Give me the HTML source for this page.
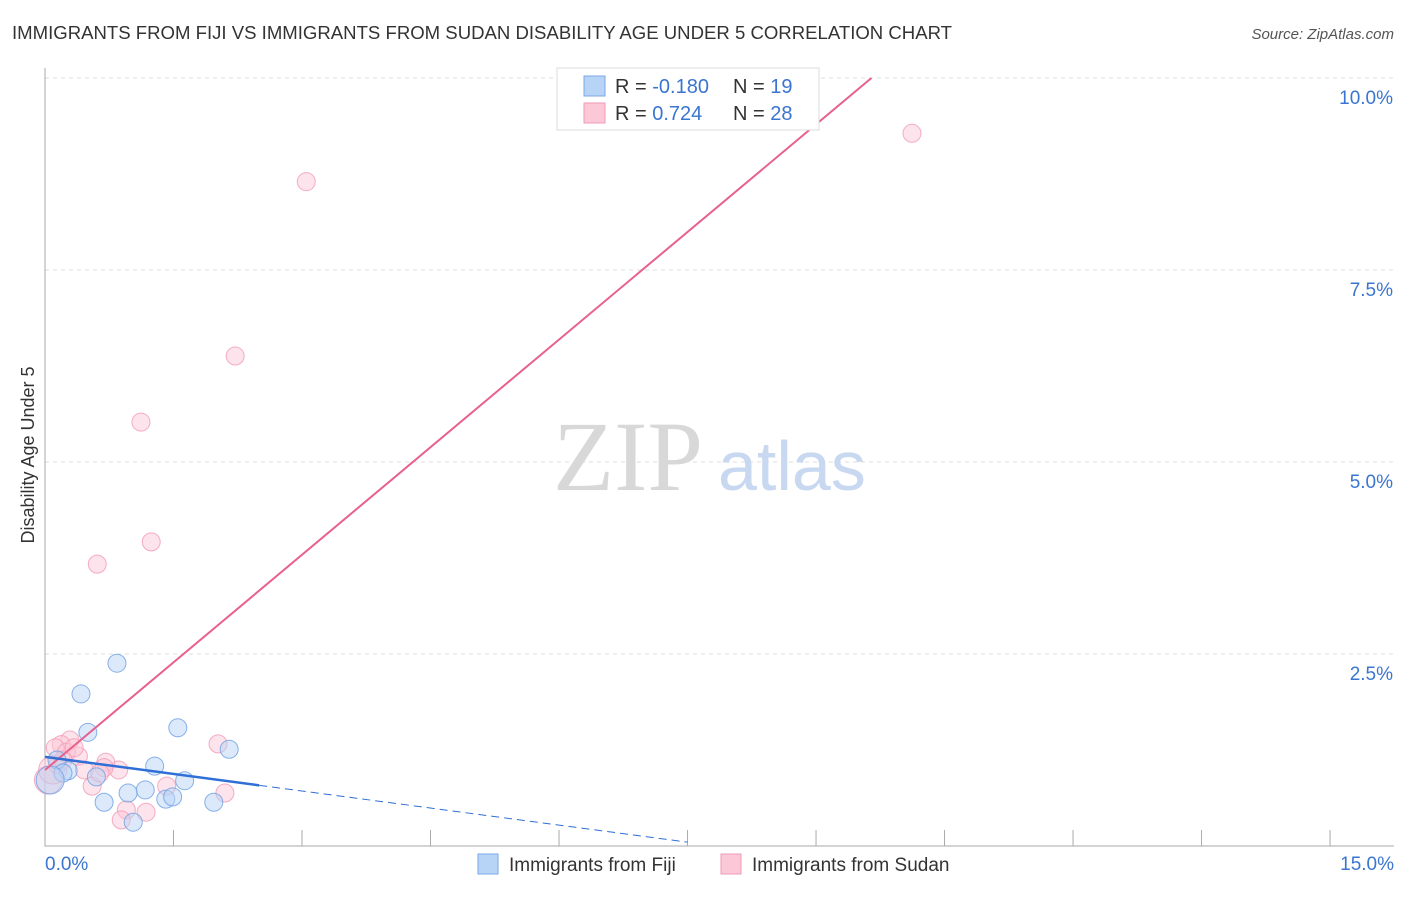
<!DOCTYPE html>
<html><head><meta charset="utf-8"><style>
body{margin:0;background:#fff;font-family:"Liberation Sans",sans-serif;}
</style></head><body>
<svg width="1406" height="892" style="font-family:'Liberation Sans',sans-serif">
<text x="12" y="39" font-size="18" fill="#333" textLength="940" lengthAdjust="spacingAndGlyphs">IMMIGRANTS FROM FIJI VS IMMIGRANTS FROM SUDAN DISABILITY AGE UNDER 5 CORRELATION CHART</text>
<text x="1394" y="39" font-size="15" fill="#555" font-style="italic" text-anchor="end">Source: ZipAtlas.com</text>
<text x="34" y="455" font-size="18" fill="#333" text-anchor="middle" transform="rotate(-90 34 455)">Disability Age Under 5</text>
<g id="grid"></g>
<text x="553" y="490" font-size="100" fill="#d8d8d8" style="font-family:'Liberation Serif',serif">ZIP</text>
<text x="718" y="490" font-size="70" fill="#c8d8f0">atlas</text>
<g id="marks"></g>
<g>
<rect x="557" y="68" width="262" height="62" fill="#fff" stroke="#ddd"/>
<rect x="584" y="76" width="21" height="20" fill="#b7d3f5" stroke="#7aa7e6"/>
<rect x="584" y="103" width="21" height="20" fill="#fbc8d7" stroke="#f19ab5"/>
<text x="615" y="93" font-size="20" fill="#333">R = <tspan fill="#3a75d0">-0.180</tspan></text>
<text x="733" y="93" font-size="20" fill="#333">N = <tspan fill="#3a75d0"> 19</tspan></text>
<text x="615" y="120" font-size="20" fill="#333">R = <tspan fill="#3a75d0"> 0.724</tspan></text>
<text x="733" y="120" font-size="20" fill="#333">N = <tspan fill="#3a75d0">28</tspan></text>
</g>
<g>
<rect x="478" y="854" width="20" height="20" fill="#b7d3f5" stroke="#7aa7e6"/>
<text x="509" y="871" font-size="19" fill="#333">Immigrants from Fiji</text>
<rect x="721" y="854" width="20" height="20" fill="#fbc8d7" stroke="#f19ab5"/>
<text x="752" y="871" font-size="19" fill="#333">Immigrants from Sudan</text>
</g>
</svg>
<script>
const yTicks=[2.5,5,7.5,10];
const yTickLabels=["2.5%","5.0%","7.5%","10.0%"];
const xTickLabels=["0.0%","15.0%"];
const fijiX=[0.84,0.42,0.5,1.55,2.15,1.28,1.63,1.17,0.97,0.69,1.41,1.49,1.97,1.03,0.6,0.27,0.14,0.21,0.06];
const fijiY=[2.38,1.98,1.48,1.54,1.26,1.04,0.85,0.73,0.69,0.57,0.61,0.64,0.57,0.31,0.9,0.98,1.12,0.95,0.86];
const sudanX=[10.12,3.05,2.22,1.12,1.24,0.61,2.02,2.1,1.42,0.86,0.71,0.69,0.55,0.39,0.29,0.19,0.12,0.25,0.46,0.95,0.89,1.18,0.04,0.09,0.34,0.64,0.15,0.21];
const sudanY=[9.28,8.65,6.38,5.52,3.96,3.67,1.33,0.69,0.78,0.99,1.09,1.02,0.78,1.17,1.38,1.32,1.28,1.22,0.99,0.47,0.34,0.44,0.86,0.99,1.28,0.95,1.06,1.12];
const fijiFit=[1.16,-0.148], sudanFit=[0.99,0.934];
const X=v=>45+v*85.67, Y=v=>846-v*76.8;
const NS="http://www.w3.org/2000/svg";
function mk(t,a,p){const e=document.createElementNS(NS,t);for(const k in a)e.setAttribute(k,a[k]);p.appendChild(e);return e;}
const g=document.getElementById('grid'), m=document.getElementById('marks');
yTicks.forEach((t,i)=>{
 const l=mk('line',{x1:45,x2:1394,y1:Y(t),y2:Y(t),stroke:'#ddd','stroke-dasharray':'4,4'},g);
 
 
 const tx=mk('text',{x:1393,y:Y(t)+26,'font-size':19,fill:'#3a75d0','text-anchor':'end'},g);tx.textContent=yTickLabels[i];
 
 
});
const ax=mk('path',{d:'M45 68V846H1394',stroke:'#aaa',fill:'none'},g);


for(let i=1;i<=10;i++){const t=mk('line',{x1:X(i*1.5),x2:X(i*1.5),y1:830,y2:846,stroke:'#aaa'},g);
 
 }
[[0,'start',45],[15,'end',1394]].forEach((d,i)=>{const t=mk('text',{x:d[2],y:870,'font-size':19,fill:'#3a75d0','text-anchor':d[1]},g);t.textContent=xTickLabels[i];
 
 });
function pts(xs,ys,fill,stroke,name){xs.forEach((x,i)=>{const big=x<0.1;const c=mk('circle',{cx:X(x),cy:Y(ys[i]),r:big?14:9,fill:fill,'fill-opacity':0.5,stroke:stroke,'stroke-opacity':0.8},m);
 
 });}
pts(sudanX,sudanY,'#fbc8d7','#f19ab5','sudan-point');
pts(fijiX,fijiY,'#b7d3f5','#6d9fe3','fiji-point');
const f=v=>fijiFit[0]+fijiFit[1]*v, s=v=>sudanFit[0]+sudanFit[1]*v;
const sx2=(10.0-sudanFit[0])/sudanFit[1];
const sl=mk('line',{x1:X(0),y1:Y(s(0)),x2:X(sx2),y2:Y(s(sx2)),stroke:'#e8608c','stroke-width':2},m);


const fl=mk('line',{x1:X(0),y1:Y(f(0)),x2:X(2.5),y2:Y(f(2.5)),stroke:'#2f6fd6','stroke-width':2.5},m);


const fd=mk('line',{x1:X(2.5),y1:Y(f(2.5)),x2:X(7.5),y2:Y(f(7.5)),stroke:'#2f6fd6','stroke-width':1,'stroke-dasharray':'8,5'},m);


</script>
</body></html>
